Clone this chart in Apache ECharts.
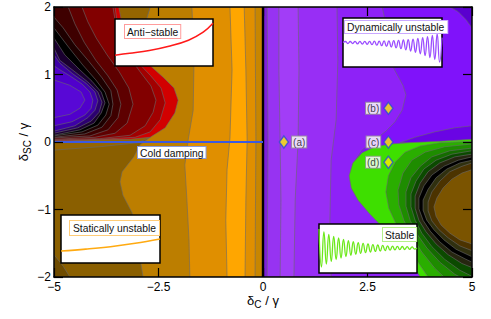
<!DOCTYPE html>
<html><head><meta charset="utf-8">
<script src="https://cdn.jsdelivr.net/npm/echarts@6/dist/echarts.min.js"></script>
<style>html,body{margin:0;padding:0;background:#fff}#c{width:491px;height:319px}</style>
</head><body><div id="c"></div>
<script>
// ---- axes ----
const xTicks = [-5, -2.5, 0, 2.5, 5];
const yTicks = [-2, -1, 0, 1, 2];

// ---- contour boundaries (x = δC/γ, y = δSC/γ) ----
// left half: vertical bands (top -> bottom)
const leftBase = [[-5,2],[0,2],[0,-2],[-5,-2]];
const B1 = [[-2.70,2],[-2.94,1.51],[-2.94,1.13],[-2.58,0.62],[-2.70,0.07],[-2.94,-0.04],[-3.09,-0.22],[-3.37,-0.44],[-3.42,-0.59],[-3.35,-0.79],[-3.13,-1.05],[-2.99,-1.53],[-2.87,-2]];
const B2 = [[-1.70,2],[-1.65,1.21],[-1.67,0.47],[-1.79,0.03],[-1.87,-0.34],[-1.82,-0.86],[-1.77,-1.45],[-1.75,-2]];
const B3 = [[-0.79,2],[-0.74,1.07],[-0.79,0.06],[-0.86,-0.41],[-0.89,-1.16],[-0.86,-2]];
const B4 = [[-0.45,2],[-0.41,1.07],[-0.38,0.03],[-0.41,-0.86],[-0.43,-2]];
const B5 = [[-0.19,2],[-0.17,0.03],[-0.19,-2]];
const O2 = [[-5,-0.12],[-3.90,-0.07],[-2.99,-0.01],[-2.70,0.07],[-2.58,0.62],[-2.94,1.13],[-2.94,1.51],[-2.70,2],[-5,2]];
const cornerLL = [[-5,-1.67],[-4.78,-1.84],[-4.62,-2],[-5,-2]];
// left half: anti-stable C shape (outer -> inner)
const R1 = [[-5,0.01],[-4.14,0.03],[-3.18,0.04],[-2.70,0.07],[-2.34,0.21],[-2.11,0.43],[-2.03,0.62],[-2.13,0.80],[-2.39,0.96],[-2.75,1.16],[-3.06,1.36],[-3.28,1.61],[-3.40,1.84],[-3.45,2],[-5,2]];
const R2 = [[-5,0.02],[-3.90,0.04],[-3.06,0.07],[-2.70,0.15],[-2.46,0.33],[-2.34,0.58],[-2.44,0.80],[-2.70,0.99],[-3.04,1.21],[-3.33,1.48],[-3.49,1.78],[-3.54,2],[-5,2]];
const R3 = [[-5,0.03],[-3.90,0.05],[-3.18,0.10],[-2.82,0.24],[-2.63,0.44],[-2.56,0.62],[-2.68,0.83],[-2.94,1.04],[-3.23,1.29],[-3.44,1.56],[-3.54,1.81],[-3.59,2],[-5,2]];
const R4 = [[-5,0.04],[-4.02,0.07],[-3.54,0.13],[-3.25,0.28],[-3.11,0.56],[-3.21,0.80],[-3.44,1.04],[-3.73,1.29],[-3.99,1.54],[-4.19,1.78],[-4.33,2],[-5,2]];
const R5 = [[-5,0.06],[-4.14,0.09],[-3.71,0.18],[-3.47,0.36],[-3.40,0.56],[-3.49,0.77],[-3.71,0.98],[-4.00,1.21],[-4.28,1.48],[-4.50,1.75],[-4.66,2],[-5,2]];
const K1 = [[-5,0.07],[-4.26,0.12],[-3.85,0.22],[-3.64,0.39],[-3.59,0.56],[-3.64,0.76],[-3.85,0.95],[-4.16,1.19],[-4.50,1.44],[-4.78,1.69],[-5,1.85]];
const K2 = [[-5,0.09],[-4.33,0.15],[-3.95,0.25],[-3.76,0.40],[-3.68,0.56],[-3.78,0.74],[-4.00,0.92],[-4.31,1.14],[-4.62,1.38],[-5,1.69]];
const K3 = [[-5,0.10],[-4.38,0.18],[-4.04,0.28],[-3.87,0.43],[-3.78,0.58],[-3.87,0.74],[-4.09,0.90],[-4.40,1.08],[-4.74,1.29],[-5,1.54]];
const P1 = [[-5,0.13],[-4.43,0.21],[-4.11,0.31],[-3.92,0.44],[-3.85,0.59],[-3.95,0.74],[-4.19,0.89],[-4.52,1.05],[-4.86,1.21],[-5,1.39]];
const P2 = [[-5,0.16],[-4.50,0.24],[-4.19,0.36],[-4.02,0.47],[-3.95,0.61],[-4.02,0.74],[-4.23,0.87],[-4.55,1.01],[-4.86,1.17],[-5,1.29]];
const P3 = [[-5,0.24],[-4.57,0.30],[-4.26,0.40],[-4.11,0.50],[-4.07,0.62],[-4.14,0.74],[-4.33,0.86],[-4.62,0.98],[-4.86,1.07],[-5,1.13]];
const P4 = [[-5,0.36],[-4.62,0.41],[-4.38,0.50],[-4.26,0.62],[-4.35,0.74],[-4.62,0.84],[-5,0.92]];
// right half: purple bands
const rightBase = [[0,2],[5,2],[5,-2],[0,-2]];
const L1 = [[0.10,2],[0.12,0],[0.10,-2]];
const L2 = [[0.38,2],[0.38,1.07],[0.41,0],[0.43,-0.86],[0.41,-2]];
const L3 = [[0.84,2],[0.86,1.07],[0.84,0.03],[0.77,-0.86],[0.74,-2]];
const L4 = [[1.77,2],[1.79,1.21],[1.75,0.33],[1.63,-0.27],[1.60,-1.16],[1.63,-2]];
const V5 = [[2.85,2],[2.92,1.81],[3.04,1.44],[3.11,1.11],[3.35,0.84],[3.42,0.70],[3.33,0.47],[3.16,0.30],[2.94,0.16],[2.63,0.01],[2.37,-0.12],[2.13,-0.34],[5,-0.34],[5,2]];
const V6 = [[4.47,2],[4.67,1.93],[4.86,1.81],[5,1.69],[5,2]];
const V7 = [[5,0.24],[4.59,0.21],[4.11,0.15],[3.64,0.07],[3.28,-0.01],[5,-0.01]];
// right half: stable C shape (outer -> inner)
const G1 = [[5,0.04],[4.23,0.01],[3.52,-0.01],[3.04,-0.03],[2.68,-0.07],[2.37,-0.16],[2.15,-0.31],[2.06,-0.50],[2.11,-0.68],[2.27,-0.86],[2.56,-1.07],[2.92,-1.30],[3.23,-1.53],[3.52,-1.75],[3.76,-2],[5,-2]];
const G2 = [[5,0.01],[4.23,-0.01],[3.76,-0.06],[3.40,-0.15],[3.16,-0.30],[3.00,-0.50],[2.94,-0.74],[3.01,-0.98],[3.18,-1.21],[3.40,-1.45],[3.64,-1.72],[3.95,-2],[5,-2]];
const G3 = [[5,-0.03],[4.35,-0.07],[3.88,-0.15],[3.56,-0.27],[3.35,-0.46],[3.23,-0.71],[3.25,-0.93],[3.37,-1.16],[3.56,-1.39],[3.80,-1.63],[4.11,-1.87],[4.33,-2],[5,-2]];
const G4 = [[5,-0.09],[4.47,-0.13],[4.04,-0.22],[3.76,-0.36],[3.54,-0.53],[3.42,-0.74],[3.42,-0.95],[3.52,-1.16],[3.68,-1.36],[3.92,-1.57],[4.23,-1.78],[4.59,-1.96],[4.71,-2],[5,-2]];
const G5 = [[5,-0.13],[4.52,-0.18],[4.14,-0.27],[3.85,-0.40],[3.66,-0.58],[3.54,-0.77],[3.54,-0.96],[3.64,-1.16],[3.80,-1.35],[4.04,-1.55],[4.35,-1.74],[4.71,-1.90],[5,-1.99]];
const GK1 = [[5,-0.18],[4.59,-0.22],[4.23,-0.31],[3.95,-0.44],[3.76,-0.61],[3.64,-0.80],[3.64,-0.98],[3.73,-1.16],[3.90,-1.33],[4.14,-1.51],[4.43,-1.67],[4.76,-1.80],[5,-1.86]];
const GK2 = [[5,-0.22],[4.67,-0.27],[4.33,-0.36],[4.04,-0.49],[3.85,-0.65],[3.73,-0.83],[3.73,-0.99],[3.83,-1.16],[4.00,-1.32],[4.23,-1.48],[4.52,-1.63],[4.83,-1.73],[5,-1.78]];
const GK3 = [[5,-0.27],[4.71,-0.31],[4.40,-0.40],[4.14,-0.53],[3.95,-0.70],[3.83,-0.86],[3.83,-1.01],[3.92,-1.16],[4.09,-1.30],[4.33,-1.45],[4.62,-1.59],[5,-1.70]];
const BR1 = [[5,-0.31],[4.76,-0.36],[4.47,-0.44],[4.23,-0.58],[4.04,-0.74],[3.95,-0.89],[3.95,-1.02],[4.04,-1.17],[4.21,-1.30],[4.43,-1.42],[4.71,-1.54],[5,-1.61]];
const BR2 = [[5,-0.41],[4.76,-0.46],[4.52,-0.55],[4.31,-0.68],[4.16,-0.83],[4.09,-0.96],[4.14,-1.10],[4.26,-1.23],[4.47,-1.35],[4.71,-1.45],[5,-1.51]];

// special lines
const zeroContour = [[0,-2],[0,2]];
const coldDamping = [[-5,0],[0,0]];
// marked points
const pointX = [0.5, 3, 3, 3];
const pointY = [0, 0.5, 0, -0.3];
const pointNames = ['(a)', '(b)', '(c)', '(d)'];

// inset time traces
const antiT = [0, 0.15, 0.35, 0.55, 0.75, 0.9, 1.0];
const antiV = [0.23, 0.27, 0.33, 0.42, 0.55, 0.72, 0.91];
const staticT = [0, 0.25, 0.5, 0.75, 1];
const staticV = [0.25, 0.29, 0.34, 0.41, 0.5];
const dynV = [0.50, 0.52,0.48, 0.52,0.48, 0.522,0.473, 0.522,0.469, 0.524,0.463, 0.524,0.455, 0.527,0.445, 0.529,0.435, 0.533,0.422, 0.535,0.408, 0.539,0.392, 0.545,0.373, 0.551,0.351, 0.559,0.327, 0.569,0.300, 0.584,0.269, 0.600,0.233, 0.620,0.192, 0.643,0.153, 0.673,0.102, 0.6];
const stableV = [0.898,0.122, 0.837,0.184, 0.786,0.235, 0.745,0.276, 0.714,0.306, 0.684,0.337, 0.659,0.361, 0.639,0.382, 0.620,0.400, 0.604,0.416, 0.592,0.429, 0.580,0.441, 0.571,0.449, 0.563,0.457, 0.555,0.465, 0.549,0.471, 0.545,0.476, 0.541,0.480, 0.537,0.484, 0.533,0.488, 0.51];

// ---- build ----
const toZero = b => b.concat([[0,-2],[0,2]]);
const toRight = b => b.concat([[5,-2],[5,2]]);
const layers = [
  [leftBase,'#8A5F00'],[toZero(B1),'#BC7E00'],[toZero(B2),'#E08F00'],[toZero(B3),'#FFA600'],
  [toZero(B4),'#E08F00'],[toZero(B5),'#C88600'],[O2,'#956500'],[cornerLL,'#6E4B00'],
  [R1,'#D20000'],[R2,'#A20000'],[R3,'#820000'],[R4,'#5E0000'],[R5,'#3E0000'],
  [K1,'#1E0000'],[K2,'#000000'],[K3,'#1A0030'],[P1,'#2C0070'],[P2,'#3E00A8'],[P3,'#5000CC'],[P4,'#5808D6'],
  [rightBase,'#7E20D8'],[toRight(L1),'#9733F2'],[toRight(L2),'#A23DF7'],[toRight(L3),'#982EF5'],[toRight(L4),'#8E22F7'],
  [V5,'#8012FA'],[V6,'#5A00CF'],[V7,'#6A04E4'],
  [G1,'#3EDF00'],[G2,'#2AAE00'],[G3,'#1E8C00'],[G4,'#146C00'],[G5,'#0B4A00'],
  [GK1,'#262610'],[GK2,'#000000'],[GK3,'#30300F'],[BR1,'#4C3300'],[BR2,'#7B5400']
];

const F = '"Liberation Sans", Arial, Helvetica, sans-serif';
const fmt = v => { const t = xTicks.concat(yTicks).find(k => Math.abs(k - v) < 1e-9); const s = String(Math.abs(t === undefined ? v : t)); return v < 0 ? '\u2212' + s : s; };

const mainAxisCommon = {
  axisLine: { onZero: false, lineStyle: { color: '#000', width: 1.5 } },
  axisTick: { inside: true, length: 9, lineStyle: { color: '#000', width: 1.2 } },
  splitLine: { show: false }, z: 3
};
const insetAx = (grid, max) => ({ gridIndex: grid, type: 'value', min: 0, max: max, show: false });
const insetGrid = (l, t, w, h) => ({ left: l, top: t, width: w, height: h, show: true, backgroundColor: '#fff', borderColor: '#000', borderWidth: 1.5, z: 5 });

const labelBox = (txt, l, t, border, pad) => ({
  type: 'text', left: l, top: t, z: 20,
  style: { text: txt, font: '10.3px ' + F, fill: '#111', backgroundColor: '#fff', borderColor: border, borderWidth: 1, padding: pad }
});

const option = {
  animation: false,
  grid: [
    { left: 54, top: 7, width: 418, height: 270, z: 0 },
    insetGrid(115, 19, 98, 47),
    insetGrid(343, 18, 99, 49),
    insetGrid(61, 215, 99, 48),
    insetGrid(319, 224, 98, 49)
  ],
  xAxis: [
    Object.assign({ gridIndex: 0, type: 'value', min: -5, max: 5, interval: 2.5, position: 'bottom',
      axisLabel: { formatter: fmt, color: '#000', fontSize: 12, fontFamily: F, margin: 4 },
      name: '{d|\u03b4}{s|C}{d| / \u03b3}', nameLocation: 'middle', nameGap: 14, nameMoveOverlap: false,
      nameTextStyle: { color: '#000', fontFamily: F, rich: { d: { fontSize: 13, fontFamily: F, color: '#000' }, s: { fontSize: 10, fontFamily: F, color: '#000', padding: [8, 0, 0, 0] } } } }, mainAxisCommon),
    Object.assign({ gridIndex: 0, type: 'value', min: -5, max: 5, interval: 2.5, position: 'top', axisLabel: { show: false } }, mainAxisCommon),
    insetAx(1, 1), insetAx(2, dynV.length - 1), insetAx(3, 1), insetAx(4, stableV.length - 1)
  ],
  yAxis: [
    Object.assign({ gridIndex: 0, type: 'value', min: -2, max: 2, interval: 1, position: 'left',
      axisLabel: { formatter: fmt, color: '#000', fontSize: 12, fontFamily: F, margin: 3 },
      name: '{d|\u03b4}{s|SC}{d| / \u03b3}', nameLocation: 'middle', nameGap: 22, nameRotate: 90, nameMoveOverlap: false,
      nameTextStyle: { color: '#000', fontFamily: F, rich: { d: { fontSize: 13, fontFamily: F, color: '#000' }, s: { fontSize: 10, fontFamily: F, color: '#000', padding: [8, 0, 0, 0] } } } }, mainAxisCommon),
    Object.assign({ gridIndex: 0, type: 'value', min: -2, max: 2, interval: 1, position: 'right', axisLabel: { show: false } }, mainAxisCommon),
    insetAx(1, 1), insetAx(2, 1), insetAx(3, 1), insetAx(4, 1)
  ],
  series: [
    {
      type: 'custom', xAxisIndex: 0, yAxisIndex: 0, z: 1, clip: true, silent: true,
      data: layers.map((d, i) => [0, 0, i]),
      renderItem: (params, api) => {
        const d = layers[api.value(2)];
        return { type: 'polygon', shape: { points: d[0].map(p => api.coord(p)) },
          style: { fill: d[1], stroke: '#6a6a6a', lineWidth: 0.6 } };
      }
    },
    { type: 'line', xAxisIndex: 0, yAxisIndex: 0, data: zeroContour, symbol: 'none', z: 2, silent: true,
      lineStyle: { color: '#000', width: 2.4 } },
    { type: 'line', xAxisIndex: 0, yAxisIndex: 0, data: coldDamping, symbol: 'none', z: 2, silent: true,
      lineStyle: { color: '#3c5ae0', width: 2 } },
    { type: 'scatter', xAxisIndex: 0, yAxisIndex: 0, z: 4, silent: true,
      symbol: 'diamond', symbolSize: [9, 12],
      itemStyle: { color: '#ffee00', borderColor: '#2a4bd7', borderWidth: 1.5 },
      label: { show: true, formatter: p => pointNames[p.dataIndex], fontSize: 10, fontFamily: F, color: '#111',
        backgroundColor: '#fff', borderColor: '#999', borderWidth: 1, padding: [1, 1, 0, 1], distance: 3 },
      data: pointX.map((x, i) => ({ value: [x, pointY[i]], label: { position: i === 0 ? 'right' : 'left' } })) },
    { type: 'line', xAxisIndex: 2, yAxisIndex: 2, z: 6, symbol: 'none', smooth: 0.4, clip: true, silent: true,
      data: antiT.map((t, i) => [t, antiV[i]]), lineStyle: { color: '#ff1a1a', width: 1.6 } },
    { type: 'line', xAxisIndex: 3, yAxisIndex: 3, z: 6, symbol: 'none', smooth: 0.5, clip: true, silent: true,
      data: dynV.map((v, i) => [i, v]), lineStyle: { color: '#9b4dff', width: 1.3 } },
    { type: 'line', xAxisIndex: 4, yAxisIndex: 4, z: 6, symbol: 'none', smooth: 0.4, clip: true, silent: true,
      data: staticT.map((t, i) => [t, staticV[i]]), lineStyle: { color: '#ffaa11', width: 1.6 } },
    { type: 'line', xAxisIndex: 5, yAxisIndex: 5, z: 6, symbol: 'none', smooth: 0.5, clip: true, silent: true,
      data: stableV.map((v, i) => [i, v]), lineStyle: { color: '#6ce81a', width: 1.3 } }
  ],
  graphic: [
    labelBox('Anti\u2212stable', 124, 24, '#ff9c9c', [2, 2, 1, 2]),
    labelBox('Dynamically unstable', 344, 20, '#c9a8ff', [1, 3, 1, 2]),
    labelBox('Statically unstable', 69, 220, '#ffcc77', [2, 3, 2, 3]),
    labelBox('Stable', 382, 227, '#b6f08a', [2, 2, 1, 2]),
    labelBox('Cold damping', 137, 146, '#8c9ad8', [1, 2, 0, 2])
  ]
};

const chart = echarts.init(document.getElementById('c'), null, { renderer: 'svg', width: 491, height: 319 });
chart.setOption(option);
</script>
</body></html>
